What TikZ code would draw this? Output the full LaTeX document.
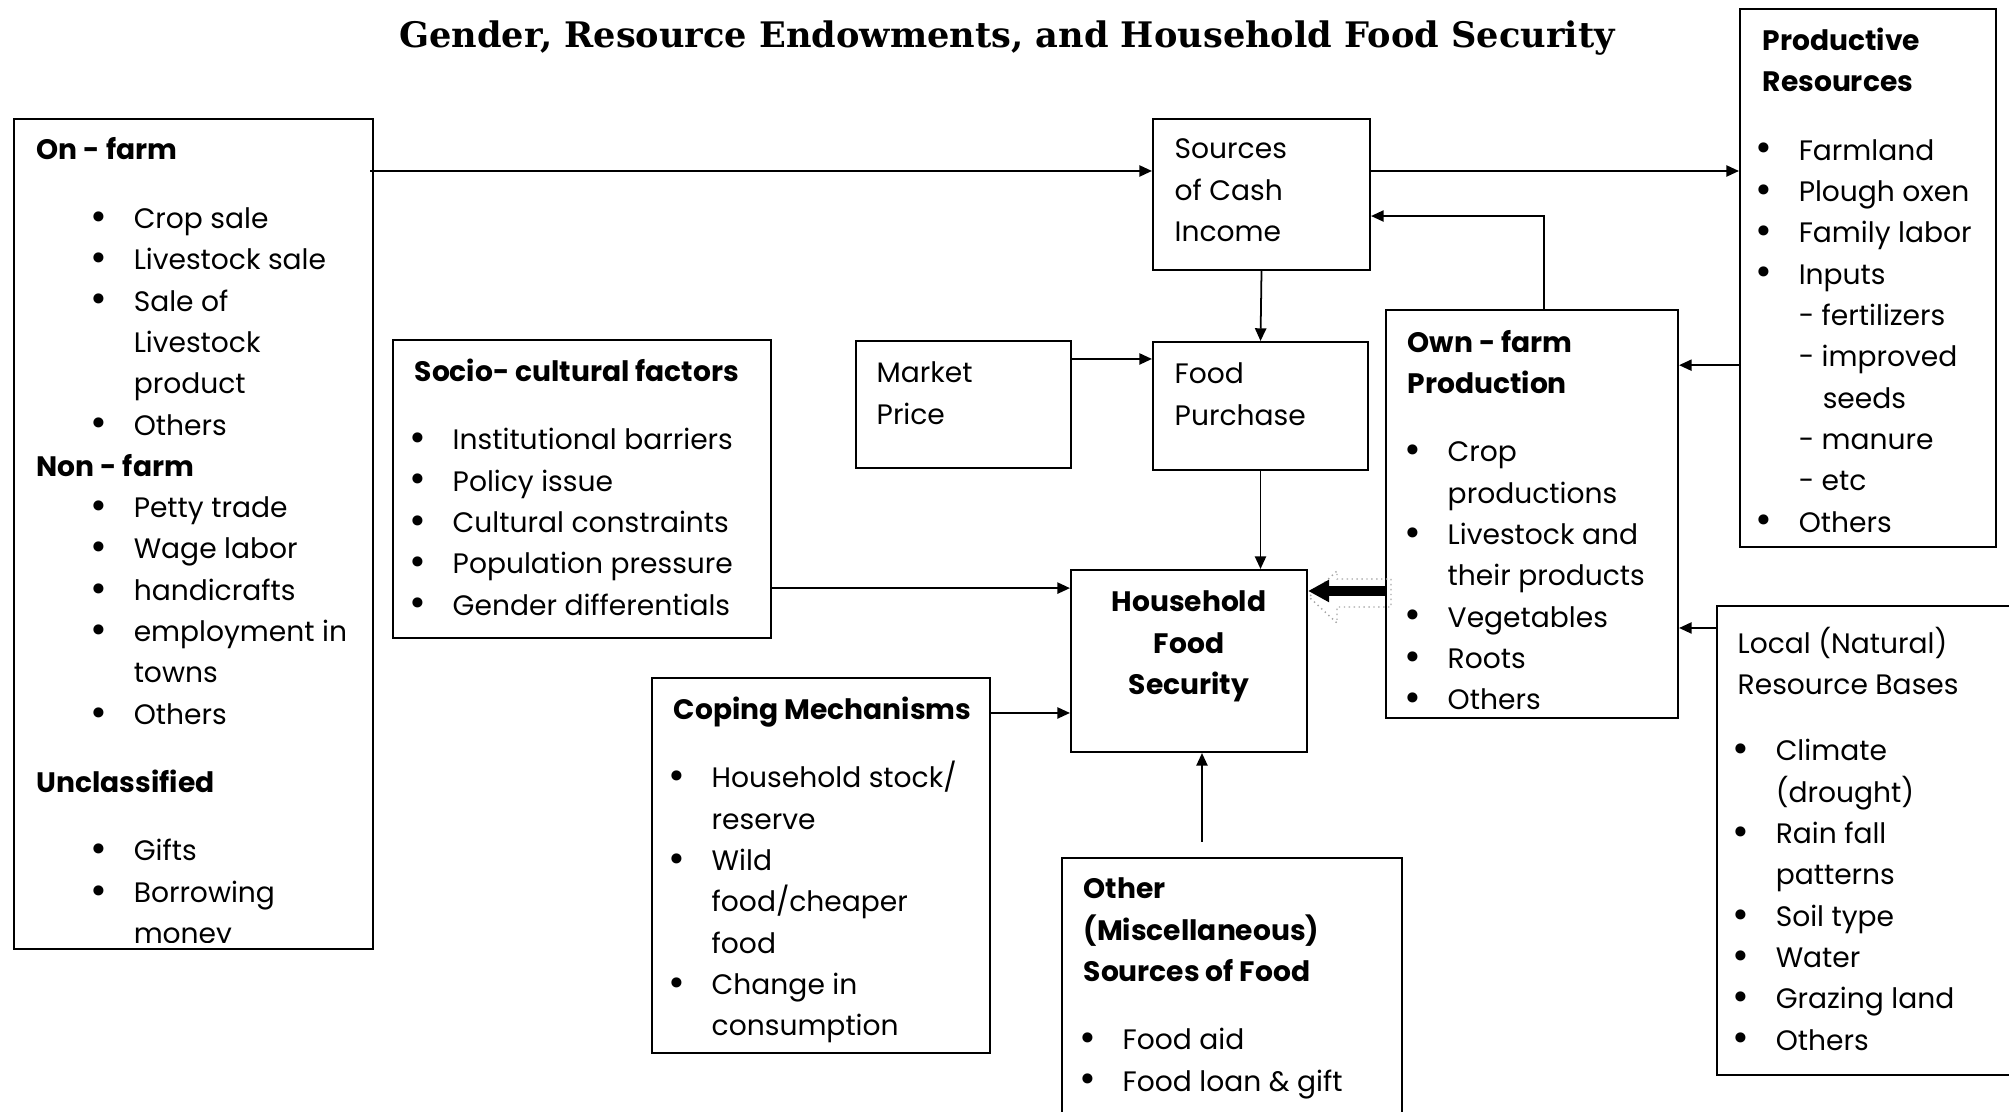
\documentclass[tikz,border=0pt]{standalone}
\usepackage{fontspec}
\setmainfont{Poppins}
\newfontfamily\titlefont{DejaVu Serif}
\usetikzlibrary{arrows.meta,fit}
\newcommand{\bul}[1]{\makebox[0.43cm][l]{\raisebox{-0.5pt}{\scalebox{1.45}{\textbullet}}}#1}
\newcommand{\cnt}[1]{\hspace*{0.43cm}#1}
\newcommand{\ind}{\hspace*{0.54cm}}

\begin{document}
\begin{tikzpicture}[x=0.01cm, y=-0.01cm,
  box/.style={draw, line width=0.6pt, inner sep=0pt},
  txt/.style={anchor=north west, align=left, inner sep=0pt, yshift=5.6pt,
    font=\fontsize{8}{11.75}\selectfont, execute at begin node=\strut},
  arr/.style={-{Triangle[length=3.6pt,width=3.2pt]}, line width=0.5pt},
  bigarr/.style={-{Triangle[length=6pt,width=6pt]}, line width=2.6pt}]

  \useasboundingbox (0,0) rectangle (2009,1111);

  % ── Title ──────────────────────────────────────────────────────
  \node[font=\titlefont\bfseries\fontsize{10}{12}\selectfont] (title) at (1007,38)
    {Gender, Resource Endowments, and Household Food Security};

  % ── Boxes ──────────────────────────────────────────────────────
  \node[box, fit={(14,119)(373,949)}]    (income)   {};
  \node[box, fit={(1153,119)(1370,270)}] (cash)     {};
  \node[box, fit={(1740,9)(1996,547)}]   (prodres)  {};
  \node[box, fit={(393,340)(771,638)}]   (socio)    {};
  \node[box, fit={(856,341)(1071,468)}]  (market)   {};
  \node[box, fit={(1153,342)(1368,470)}] (purchase) {};
  \node[box, fit={(1386,310)(1678,718)}] (ownfarm)  {};
  \node[box, fit={(1071,570)(1307,752)}] (hfs)      {};
  \node[box, fit={(652,678)(990,1053)}]  (coping)   {};
  \node[box, fit={(1062,858)(1402,1125)}] (other)   {};
  \node[box, fit={(1717,606)(2020,1075)}] (local)   {};

  % ── Box contents ───────────────────────────────────────────────
  \begin{scope}
    \clip (income.north west) rectangle ([yshift=0.08cm]income.south east);
    \node[txt] (incometxt) at (36,156) {\textbf{On - farm}\\[0.28cm]
      \ind\bul{Crop sale}\\
      \ind\bul{Livestock sale}\\
      \ind\bul{Sale of}\\
      \ind\cnt{Livestock}\\
      \ind\cnt{product}\\
      \ind\bul{Others}\\
      \textbf{Non - farm}\\
      \ind\bul{Petty trade}\\
      \ind\bul{Wage labor}\\
      \ind\bul{handicrafts}\\
      \ind\bul{employment in}\\
      \ind\cnt{towns}\\
      \ind\bul{Others}\\[0.27cm]
      \textbf{Unclassified}\\[0.27cm]
      \ind\bul{Gifts}\\
      \ind\bul{Borrowing}\\
      \ind\cnt{money}};
  \end{scope}

  \node[txt] (cashtxt) at (1174,158) {Sources\\of Cash\\Income};

  \node[txt] (prodrestxt) at (1755,47) {\hspace*{0.07cm}\textbf{Productive}\\
    \hspace*{0.07cm}\textbf{Resources}\\[0.27cm]
    \bul{Farmland}\\
    \bul{Plough oxen}\\
    \bul{Family labor}\\
    \bul{Inputs}\\
    \cnt{- fertilizers}\\
    \cnt{- improved}\\
    \cnt{\hspace*{0.24cm}seeds}\\
    \cnt{- manure}\\
    \cnt{- etc}\\
    \bul{Others}};

  \node[txt] (sociotxt) at (409,378) {\hspace*{0.05cm}\textbf{Socio- cultural factors}\\[0.27cm]
    \bul{Institutional barriers}\\
    \bul{Policy issue}\\
    \bul{Cultural constraints}\\
    \bul{Population pressure}\\
    \bul{Gender differentials}};

  \node[txt] (markettxt) at (876,381) {Market\\Price};
  \node[txt] (purchasetxt) at (1174,382) {Food\\Purchase};

  \node[txt] (ownfarmtxt) at (1404,349) {\hspace*{0.03cm}\textbf{Own - farm}\\
    \hspace*{0.03cm}\textbf{Production}\\[0.27cm]
    \bul{Crop}\\
    \cnt{productions}\\
    \bul{Livestock and}\\
    \cnt{their products}\\
    \bul{Vegetables}\\
    \bul{Roots}\\
    \bul{Others}};

  \node[txt, anchor=north, align=center] (hfstxt) at (1189,610)
    {\textbf{Household}\\\textbf{Food}\\\textbf{Security}};

  \node[txt] (copingtxt) at (668,716) {\hspace*{0.05cm}\textbf{Coping Mechanisms}\\[0.27cm]
    \bul{Household stock/}\\
    \cnt{reserve}\\
    \bul{Wild}\\
    \cnt{food/cheaper}\\
    \cnt{food}\\
    \bul{Change in}\\
    \cnt{consumption}};

  \node[txt] (othertxt) at (1079,897) {\hspace*{0.04cm}\textbf{Other}\\
    \hspace*{0.04cm}\textbf{(Miscellaneous)}\\
    \hspace*{0.04cm}\textbf{Sources of Food}\\[0.27cm]
    \bul{Food aid}\\
    \bul{Food loan \& gift}};

  \node[txt] (localtxt) at (1732,646) {\hspace*{0.05cm}Local (Natural)\\
    \hspace*{0.05cm}Resource Bases\\[0.25cm]
    \bul{Climate}\\
    \cnt{(drought)}\\
    \bul{Rain fall}\\
    \cnt{patterns}\\
    \bul{Soil type}\\
    \bul{Water}\\
    \bul{Grazing land}\\
    \bul{Others}};

  % ── Connectors ─────────────────────────────────────────────────
  \coordinate (cashin) at ([yshift=-0.53cm]cash.north west);
  \coordinate (fb)     at ([xshift=0.12cm]ownfarm.north);
  \coordinate (mp)     at ([yshift=-0.19cm]market.north east);
  \coordinate (pr)     at ([yshift=-3.57cm]prodres.north west);
  \coordinate (lo)     at ([yshift=-0.23cm]local.north west);
  \coordinate (sc)     at ([yshift=-2.49cm]socio.north east);
  \coordinate (cp)     at ([yshift=-0.36cm]coping.north east);
  \coordinate (ot)     at ([xshift=-0.30cm, yshift=0.15cm]other.north);
  \coordinate (bg)     at ([yshift=-0.22cm]hfs.north east);

  % Cash income flows
  \draw[arr] ([xshift=-0.04cm]income.east |- cashin) -- (cashin);
  \draw[arr] (cashin -| cash.east) -- (cashin -| prodres.west);
  \draw[arr] (fb) |- ([yshift=-0.98cm]cash.north east);
  \draw[arr] (cash.south) -- (purchase.north);
  \draw[arr] (mp) -- (mp -| purchase.west);
  \draw[arr] (purchase.south) -- (purchase.south |- hfs.north);

  % Resources into own-farm production
  \draw[arr] (pr) -- (pr -| ownfarm.east);
  \draw[arr] (lo) -- (lo -| ownfarm.east);

  % Into household food security
  \draw[arr] (sc) -- (sc -| hfs.west);
  \draw[arr] (cp) -- (cp -| hfs.west);
  \draw[arr] (ot) -- (ot |- hfs.south);

  % Own-farm production -> food security (block arrow)
  \draw[gray!70, densely dotted, line width=0.4pt]
    (1391,579) -- (1391,607) -- (1337,607) -- (1337,623) -- (1309,597)
    -- (1337,571) -- (1337,579) -- cycle;
  \draw[bigarr] (bg -| ownfarm.west) -- (bg);

\end{tikzpicture}
\end{document}
